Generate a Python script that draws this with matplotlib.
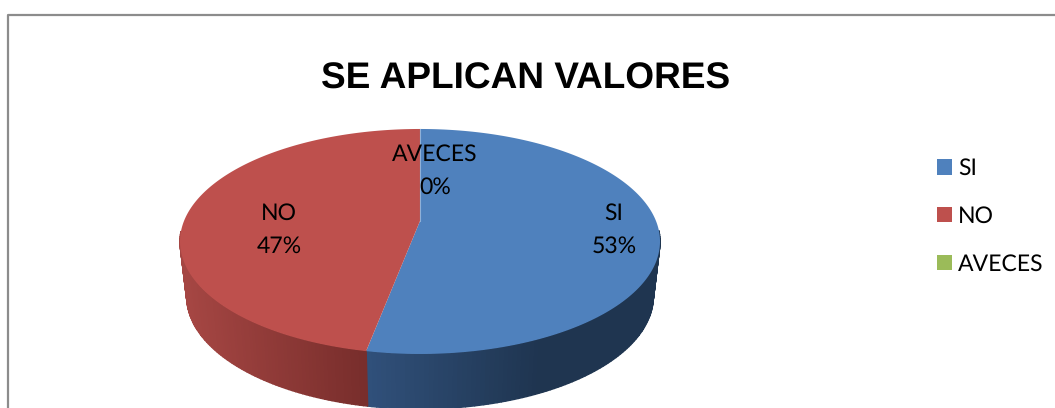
import numpy as np
from matplotlib import pyplot as plt
from matplotlib.patches import Patch
from matplotlib.colors import to_rgb

plt.rcParams['text.hinting'] = 'no_hinting'
plt.rcParams['text.hinting_factor'] = 1

categories = ["SI", "NO", "AVECES"]
percent = [53, 47, 0]
colors = ["#4F81BD", "#BE504D", "#9BBB59"]
title = "SE APLICAN VALORES"

# pie geometry, in pixels
cx, cy = 420, 241.5
semi_y = 112.5
pivot_up = 20.5
k = 0.182
depth = 55

# maps an angle on the round pie (clockwise from the top) to the tilted picture
def rim(theta, scale=1.0, drop=0.0):
        u = np.sin(theta)
        v = np.cos(theta)
        w = 1 + k * v
        x = cx + scale * 236 * u / w
        y = cy - (semi_y * v + pivot_up) / w + drop
        return x, y

# side colour goes darker towards the front right
def wall_color(i, x):
        if i == 0:
                t = np.clip((x - 368) / 170, 0, 1)
                a, b = to_rgb("#30507A"), to_rgb("#1F3550")
        else:
                t = np.clip((x - 185) / 183, 0, 1)
                a, b = to_rgb("#A54643"), to_rgb("#772D2B")
        return tuple(a[j] + (b[j] - a[j]) * t for j in range(3))

fig = plt.figure(figsize=(10.55, 4.08), dpi=100)
ax = fig.add_axes([0, 0, 1, 1])
ax.set_xlim(0, 1055)
ax.set_ylim(408, 0)
ax.axis("off")

# chart frame
ax.plot([8, 8, 1055], [408, 15, 15], color="#8C8C8C", lw=1.6)

edges = np.cumsum([0] + percent) / sum(percent) * 2 * np.pi

# side wall first, only the front part shows
for i in range(len(percent)):
        if percent[i] == 0:
                continue
        steps = np.linspace(edges[i], edges[i + 1], 200)
        for a, b in zip(steps[:-1], steps[1:]):
                if np.cos(a) > -0.1 and np.cos(b) > -0.1:
                        continue
                x1, y1 = rim(np.array([a, b]))
                x2, y2 = rim(np.array([b, a]), 0.972, depth)
                c = wall_color(i, x1.mean())
                ax.fill(np.r_[x1, x2], np.r_[y1, y2], facecolor=c, edgecolor=c, lw=1.0)

# top of the pie
for i in range(len(percent)):
        if percent[i] == 0:
                continue
        x, y = rim(np.linspace(edges[i], edges[i + 1], 300))
        ax.fill(np.r_[cx, x], np.r_[cy - pivot_up, y], color=colors[i], lw=0)

ax.plot([cx, cx], [129, cy - pivot_up], color="#8FB0D8", lw=0.8)

# data labels
label_font = ["Lato", "DejaVu Sans"]
label_pos = [(614, 230), (279, 230), (435, 171)]
for i in range(len(categories)):
        ax.text(label_pos[i][0], label_pos[i][1], f"{categories[i]}\n{percent[i]}%",
                ha="center", va="center", fontsize=16.6, family=label_font,
                linespacing=1.72, color="black")

ax.text(526, 79, title, ha="center", va="center", fontsize=26.9,
        family="Liberation Sans", weight="bold", color="black")

handles = [Patch(facecolor=c, edgecolor="none") for c in colors]
fs = 16.6
ax.legend(handles, categories, loc="upper left", bbox_to_anchor=(937 / 1055, 1 - 158 / 408),
        frameon=False, prop={"family": label_font, "size": fs},
        handlelength=10.8 / fs, handleheight=10.8 / fs, handletextpad=0.25,
        labelspacing=1.17, borderpad=0, borderaxespad=0)

plt.savefig("out.png", dpi=100)
